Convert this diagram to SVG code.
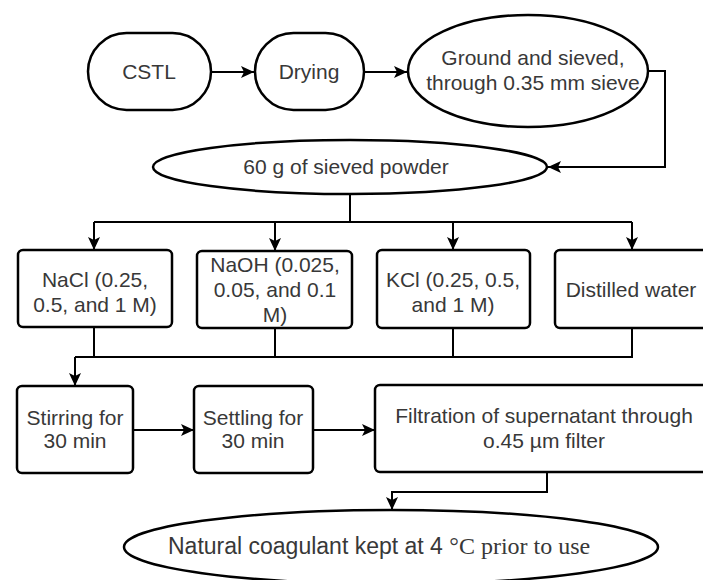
<svg xmlns="http://www.w3.org/2000/svg" width="703" height="580" viewBox="0 0 703 580">
<defs>
<marker id="arr" markerUnits="userSpaceOnUse" markerWidth="14" markerHeight="12" refX="13" refY="6" orient="auto">
<path d="M0,0 L13,6 L0,12 L3,6 z" fill="#000"/>
</marker>
<style>
.n{fill:#fff;stroke:#000;stroke-width:2.5}
.t{font-family:"Liberation Sans",Arial,sans-serif;font-size:21px;fill:#383838;text-anchor:middle}
.c{fill:none;stroke:#000;stroke-width:2}
.s{font-family:"Liberation Serif","Times New Roman",serif}
</style>
</defs>
<rect width="703" height="580" fill="#fff"/>
<g id="connectors">
<path class="c" d="M211,72 H254" marker-end="url(#arr)"/>
<path class="c" d="M364,72 H407" marker-end="url(#arr)"/>
<path class="c" d="M648,71 H665 V167 H548" marker-end="url(#arr)"/>
<path class="c" d="M350,194 V222 M94,222 H632"/>
<path class="c" d="M94,222 V250" marker-end="url(#arr)"/>
<path class="c" d="M275,222 V251" marker-end="url(#arr)"/>
<path class="c" d="M453,222 V250" marker-end="url(#arr)"/>
<path class="c" d="M632,222 V250" marker-end="url(#arr)"/>
<path class="c" d="M94,327 V357 M275,328 V357 M453,328 V357 M632,328 V357 M75,357 H633"/>
<path class="c" d="M75,357 V386" marker-end="url(#arr)"/>
<path class="c" d="M133,430 H194" marker-end="url(#arr)"/>
<path class="c" d="M313,430 H375" marker-end="url(#arr)"/>
<path class="c" d="M547,472 V492 H392 V510" marker-end="url(#arr)"/>
</g>
<g id="cstl">
<rect class="n" x="88" y="33" width="123" height="77" rx="38.5"/>
<text class="t" x="149" y="79">CSTL</text>
</g>
<g id="drying">
<rect class="n" x="255" y="33" width="109" height="77" rx="38.5"/>
<text class="t" x="309" y="79">Drying</text>
</g>
<g id="ground">
<ellipse class="n" cx="528" cy="71" rx="120" ry="56"/>
<text class="t" x="533" y="65">Ground and sieved,</text>
<text class="t" x="533" y="90">through 0.35 mm sieve</text>
</g>
<g id="powder">
<ellipse class="n" cx="350" cy="167" rx="197" ry="27"/>
<text class="t" x="346" y="174">60 g of sieved powder</text>
</g>
<g id="nacl">
<rect class="n" x="18" y="250" width="154" height="77" rx="5"/>
<text class="t" x="95" y="287">NaCl (0.25,</text>
<text class="t" x="95" y="312">0.5, and 1 M)</text>
</g>
<g id="naoh">
<rect class="n" x="197" y="251" width="155" height="77" rx="5"/>
<text class="t" x="275" y="272">NaOH (0.025,</text>
<text class="t" x="275" y="297">0.05, and 0.1</text>
<text class="t" x="275" y="322">M)</text>
</g>
<g id="kcl">
<rect class="n" x="377" y="250" width="153" height="78" rx="5"/>
<text class="t" x="453" y="287">KCl (0.25, 0.5,</text>
<text class="t" x="453" y="312">and 1 M)</text>
</g>
<g id="water">
<rect class="n" x="555" y="250" width="155" height="78" rx="5"/>
<text class="t" x="631" y="297">Distilled water</text>
</g>
<g id="stirring">
<rect class="n" x="17" y="386" width="116" height="87" rx="5"/>
<text class="t" x="75" y="425">Stirring for</text>
<text class="t" x="75" y="448">30 min</text>
</g>
<g id="settling">
<rect class="n" x="194" y="386" width="119" height="87" rx="5"/>
<text class="t" x="253" y="425">Settling for</text>
<text class="t" x="253" y="448">30 min</text>
</g>
<g id="filtration">
<rect class="n" x="375" y="385" width="338" height="87" rx="5"/>
<text class="t" x="544" y="423">Filtration of supernatant through</text>
<text class="t" x="544" y="448">o.45 µm filter</text>
</g>
<g id="coagulant">
<ellipse class="n" cx="391" cy="547" rx="267" ry="37"/>
<text class="t" x="168" y="554" style="font-size:23px;text-anchor:start">Natural coagulant kept at 4 <tspan class="s" style="font-size:24px">°C prior to use</tspan></text>
</g>
</svg>
